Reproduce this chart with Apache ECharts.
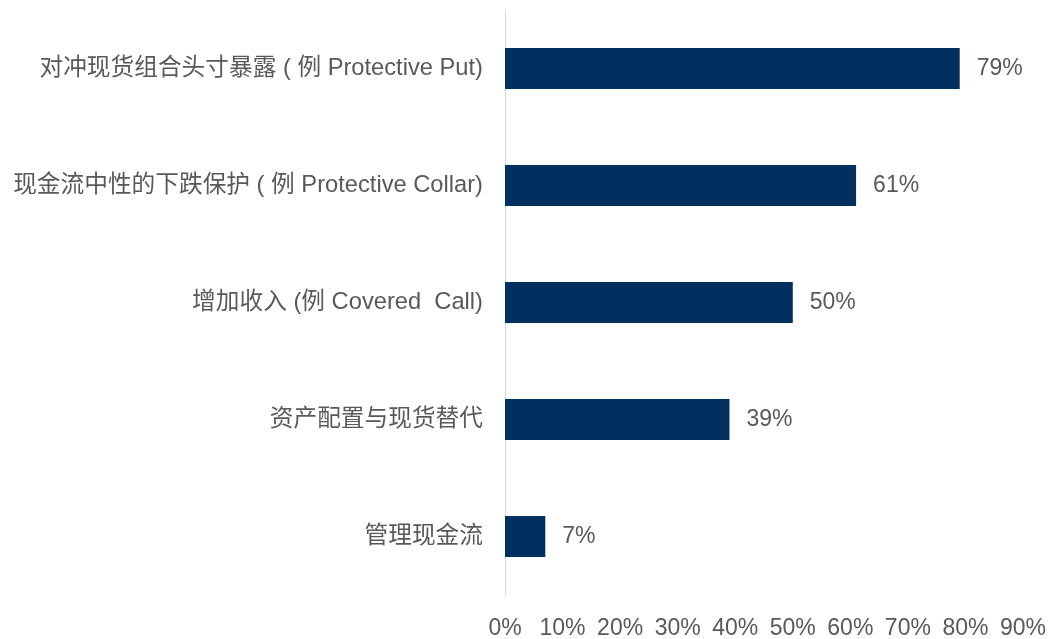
<!DOCTYPE html>
<html>
<head>
<meta charset="utf-8">
<script src="https://cdn.jsdelivr.net/npm/echarts@6/dist/echarts.min.js"></script>
<style>
  html, body { margin: 0; padding: 0; background: #ffffff; }
  #chart { width: 1050px; height: 639px; }
</style>
</head>
<body>
<div id="chart"></div>
<script>
// Uses of options, share of respondents (%)
const categories = [
  '对冲现货组合头寸暴露 ( 例 Protective Put)',
  '现金流中性的下跌保护 ( 例 Protective Collar)',
  '增加收入 (例 Covered  Call)',
  '资产配置与现货替代',
  '管理现金流'
];
const values = [79, 61, 50, 39, 7];
const axisMin = 0;
const axisMax = 90;
const axisStep = 10;

const textFont = "'Liberation Sans', Arial, 'Noto Sans CJK SC', sans-serif";
const textColor = '#595959';

const chart = echarts.init(document.getElementById('chart'), null, { renderer: 'canvas' });
chart.setOption({
  animation: false,
  backgroundColor: '#ffffff',
  grid: {
    left: 505, right: 27, top: 10, bottom: 44,
    containLabel: false,
    outerBoundsMode: 'none'
  },
  xAxis: {
    type: 'value',
    min: axisMin,
    max: axisMax,
    interval: axisStep,
    axisLine: { show: false },
    axisTick: { show: false },
    splitLine: { show: false },
    axisLabel: {
      formatter: '{value}%',
      color: textColor,
      fontFamily: textFont,
      fontSize: 23,
      margin: 22
    }
  },
  yAxis: {
    type: 'category',
    inverse: true,
    data: categories,
    axisLine: { show: true, lineStyle: { color: '#d9d9d9', width: 1 } },
    axisTick: { show: false },
    axisLabel: {
      color: textColor,
      fontFamily: textFont,
      fontSize: 23.7,
      margin: 22,
      padding: [6, 0, 0, 0]
    }
  },
  series: [{
    type: 'bar',
    data: values,
    barWidth: 41,
    itemStyle: { color: '#00305f' },
    label: {
      show: true,
      position: 'right',
      distance: 17,
      formatter: '{c}%',
      color: textColor,
      fontFamily: textFont,
      fontSize: 23,
      padding: [6, 0, 0, 0]
    }
  }]
});
</script>
</body>
</html>
